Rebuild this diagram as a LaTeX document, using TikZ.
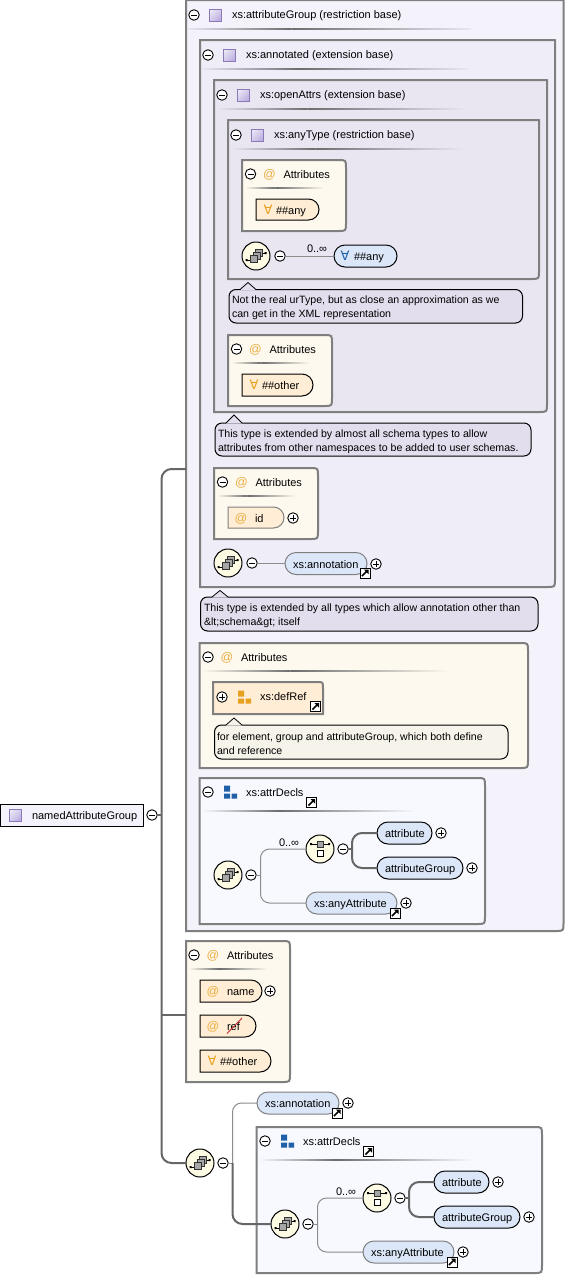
\documentclass[tikz,border=0pt]{standalone}
\usepackage{fontspec}
\setmainfont{Liberation Sans}
\newfontfamily\djv{DejaVu Sans}
\usetikzlibrary{shapes.misc,shadings}
\definecolor{frameG}{HTML}{7F7F7F}
\definecolor{bgA}{HTML}{F4F2FB}
\definecolor{bgB}{HTML}{EFEDF7}
\definecolor{bgC}{HTML}{E9E6F2}
\definecolor{bgAttr}{HTML}{FEF9EF}
\definecolor{bgDecl}{HTML}{F8F9FF}
\definecolor{itemO}{HTML}{FFEED5}
\definecolor{itemB}{HTML}{DBE7F8}
\definecolor{noteD}{HTML}{E3DEED}
\definecolor{noteL}{HTML}{F6F3EA}
\definecolor{compY}{HTML}{FDFBE3}
\definecolor{orangeI}{HTML}{E8A020}
\definecolor{blueI}{HTML}{2060A8}
\definecolor{violetI}{HTML}{8A78B8}
\definecolor{iconD}{HTML}{B5A5DC}
\definecolor{iconL}{HTML}{F2F0FA}
\definecolor{iconM}{HTML}{D4CBEB}
\definecolor{connG}{HTML}{8C8C8C}
\definecolor{connD}{HTML}{666666}
\newcounter{autoN}
\tikzset{
 txt/.style={font=\fontsize{11}{13}\selectfont,inner sep=0,outer sep=0,anchor=base west,text=black},
 notetxt/.style={font=\fontsize{10.6}{13}\selectfont,inner sep=0,outer sep=0,anchor=base west,text=black},
 hollow/.style={inner sep=0,outer sep=0},
 btn/.style={circle,draw=black,fill=white,line width=.9pt,minimum size=10.5pt,inner sep=0,outer sep=0},
 comp/.style={circle,draw=black,fill=compY,line width=1pt,minimum size=28pt,inner sep=0,outer sep=0},
 framebox/.style={draw=frameG,line width=2pt},
 pillbase/.style={rounded rectangle,inner sep=0,outer sep=0,line width=1pt},
 attitem/.style={pillbase,rounded rectangle west arc=none,draw=black,fill=itemO},
 attitemg/.style={pillbase,rounded rectangle west arc=none,draw=frameG,fill=itemO},
 elemitem/.style={pillbase,draw=black,fill=itemB},
 elemitemg/.style={pillbase,draw=frameG,fill=itemB},
 thinconn/.style={draw=connG,line width=1pt,rounded corners=9pt},
 thickconn/.style={draw=connD,line width=2pt,rounded corners=10pt},
 plainconn/.style={draw=connG,line width=1pt},
 notebox/.style={rectangle,rounded corners=7pt,draw=black,line width=1pt,inner sep=0,outer sep=0},
}
\newcommand{\lab}[3]{\stepcounter{autoN}\node[txt] (t\theautoN) at (#1,#2+4) {#3};}
\newcommand{\nlab}[3]{\stepcounter{autoN}\node[notetxt] (t\theautoN) at (#1,#2+4) {#3};}
\newcommand{\mbtn}[3]{\node[btn] (#1) at (#2,#3) {}; \draw[line width=.9pt] (#2-3,#3) -- (#2+3,#3);}
\newcommand{\pbtn}[3]{\node[btn] (#1) at (#2,#3) {}; \draw[line width=.9pt] (#2-3,#3) -- (#2+3,#3) (#2,#3-3) -- (#2,#3+3);}
% square type icon
\newcommand{\typeicon}[2]{\stepcounter{autoN}\node[hollow,minimum size=12pt] (t\theautoN) at (#1,#2) {};
 \shade[upper left=iconL,lower right=iconD,upper right=iconM,lower left=iconM] (#1-6,#2-6) rectangle (#1+6,#2+6);
 \draw[violetI,line width=1pt] (#1-6,#2-6) rectangle (#1+6,#2+6);}
% separator
\newcommand{\sepline}[4]{\pgfmathsetmacro{\mid}{#1+0.36*(#2-#1)}
 \shade[left color=#4,right color=gray!85!black] (#1,#3-.9) rectangle (\mid,#3+.9);
 \shade[left color=gray!85!black,right color=#4] (\mid,#3-.9) rectangle (#2,#3+.9);}
% framed box with selectable corner radii: name l t r b fill rTR rBR
\newcommand{\cbox}[8]{\pgfmathsetmacro{\wid}{#4-#2}\pgfmathsetmacro{\hei}{#5-#3}
 \node[hollow,minimum width=\wid pt,minimum height=\hei pt] (#1) at ({(#2+#4)/2},{(#3+#5)/2}) {};
 \draw[framebox,fill=#6] (#2,#5) -- (#2,#3) -- (#4-#7,#3) .. controls (#4,#3) .. (#4,#3+#7) -- (#4,#5-#8) .. controls (#4,#5) .. (#4-#8,#5) -- cycle;}
\newcommand{\pill}[6]{\pgfmathsetmacro{\wid}{#4-#2}\pgfmathsetmacro{\hei}{#5-#3}
 \node[#6,minimum width=\wid pt,minimum height=\hei pt] (#1) at ({(#2+#4)/2},{(#3+#5)/2}) {};}
% note: name l t r b fill tipx tipy
\newcommand{\notebx}[8]{\pgfmathsetmacro{\wid}{#4-#2}\pgfmathsetmacro{\hei}{#5-#3}
 \node[notebox,fill=#6,minimum width=\wid pt,minimum height=\hei pt] (#1) at ({(#2+#4)/2},{(#3+#5)/2}) {};
 \fill[#6] (#7-8,#3+.5) -- (#7,#8) -- (#7+8,#3+.5) -- cycle;
 \draw[black,line width=.8pt] (#7-8,#3) -- (#7,#8) -- (#7+8,#3);}
% sequence compositor
\newcommand{\seqc}[3]{\node[comp] (#1) at (#2,#3) {};
 \draw[black,line width=1pt] (#2-10,#3+4) -- (#2-5,#3+4) (#2+5,#3-3) -- (#2+10,#3-3);
 \fill[black] (#2-10.5,#3+3) rectangle (#2-8.5,#3+5) (#2+8.5,#3-4) rectangle (#2+10.5,#3-2);
 \draw[black!80,fill=gray!70,line width=.8pt] (#2-0.5,#3-6.5) rectangle (#2+6.5,#3+.5);
 \draw[black!80,fill=gray!70,line width=.8pt] (#2-3,#3-4) rectangle (#2+4,#3+3);
 \draw[black!80,fill=gray!70,line width=.8pt] (#2-6,#3-1) rectangle (#2+1,#3+6);}
% choice compositor
\newcommand{\choicec}[3]{\node[comp] (#1) at (#2,#3) {};
 \draw[black,line width=1pt] (#2-9,#3-5) -- (#2+9,#3-5);
 \fill[black] (#2-10,#3-6) rectangle (#2-8,#3-4) (#2+8,#3-6) rectangle (#2+10,#3-4);
 \draw[black!80,fill=gray!70,line width=.8pt] (#2-3,#3-8) rectangle (#2+3,#3-2);
 \draw[black,fill=white,line width=.9pt] (#2-3,#3+1) rectangle (#2+3,#3+7);}
% link icon
\newcommand{\linkicon}[2]{\stepcounter{autoN}\node[hollow,draw=black,fill=white,line width=1pt,minimum size=10pt] (t\theautoN) at (#1,#2) {};
 \draw[black,line width=1.6pt] (#1-3,#2+3) -- (#1+1.5,#2-1.5);
 \fill[black] (#1-1,#2-3.5) -- (#1+3.5,#2-3.5) -- (#1+3.5,#2+1) -- cycle;}
% group icon
\newcommand{\groupicon}[3]{\stepcounter{autoN}\node[hollow,minimum size=12pt] (t\theautoN) at (#1,#2) {};
 \fill[#3] (#1-6,#2-6.5) rectangle (#1,#2-.5) (#1-6,#2+1.5) rectangle (#1,#2+6.5) (#1+1.5,#2+1.5) rectangle (#1+7,#2+6.5);}
% @ and any glyph
\newcommand{\atg}[2]{\stepcounter{autoN}\node[font=\fontsize{12.5}{13}\selectfont,text=orangeI!85!white,inner sep=0,outer sep=0,anchor=base] (t\theautoN) at (#1,#2+4) {@};}
\newcommand{\anyg}[3]{\stepcounter{autoN}\node[font=\djv\fontsize{13}{13}\selectfont,text=#3,inner sep=0,outer sep=0,anchor=base] (t\theautoN) at (#1,#2+4.5) {∀};}
% type box header
\newcommand{\typehead}[5]{\mbtn{#1m}{#2+8}{#3+15}\typeicon{#2+29}{#3+15}\lab{#2+46}{#3+14.5}{#4}\sepline{#2+2}{#5}{#3+29}{bgC}}
% attribute box header
\newcommand{\attrhead}[3]{\mbtn{#1m}{#2+8.5}{#3+14}\atg{#2+27.5}{#3+14}\lab{#2+41.5}{#3+14}{Attributes}\sepline{#2+3}{#2+82}{#3+28}{bgAttr}}
% attrDecls group
\newcommand{\attrdecls}[3]{\begin{scope}[shift={(#2,#3)}]
 \cbox{#1box}{199.5}{778}{485}{924}{bgDecl}{8}{8}
 \mbtn{#1m}{208}{792}\groupicon{230}{792}{blueI}\lab{246}{792}{xs:attrDecls}\linkicon{311.5}{802.5}
 \sepline{202}{416}{811}{bgDecl}
 \seqc{#1seq}{228}{875}\mbtn{#1sm}{251}{875}
 \coordinate (#1br) at (260.5,875);
 \draw[plainconn] (#1sm.east) -- (#1br);
 \choicec{#1ch}{320}{849}\mbtn{#1cm}{343}{849}
 \pill{#1att}{377}{822}{432}{844}{elemitem}
 \pill{#1atg}{377}{857}{463}{879}{elemitem}
 \pill{#1any}{306}{892}{397}{914}{elemitemg}
 \coordinate (#1cbr) at (352,849);
 \draw[thinconn] (#1ch.west) -- (#1br |- #1ch.west) -- (#1br |- #1any.west) -- (#1any.west);
 \draw[thickconn] (#1att.west) -- (#1cbr |- #1att.west) -- (#1cbr |- #1atg.west) -- (#1atg.west);
 \draw[plainconn,draw=connD,line width=1.5pt] (#1cm.east) -- (#1cbr);
 \lab{385}{833}{attribute}\lab{385}{868}{attributeGroup}\lab{314}{903}{xs:anyAttribute}
 \lab{279}{842}{0..∞}
 \pbtn{#1p1}{441}{833}\pbtn{#1p2}{472}{868}\pbtn{#1p3}{406}{903}
 \linkicon{395}{913}
\end{scope}}
\begin{document}
\begin{tikzpicture}[x=1pt,y=-1pt]
\useasboundingbox[fill=white] (0,0) rectangle (565,1275);
% root
\node[hollow,draw=black,line width=1pt,fill=bgA,minimum width=143pt,minimum height=22pt] (root) at (71.5,815) {};
\typeicon{15.5}{815}\lab{32}{815}{namedAttributeGroup}
\mbtn{rootm}{152}{815}
% trunk targets
\coordinate (trunk) at (161.5,815);
\coordinate (gA) at (186,469);
\coordinate (gB) at (186,1015);
% attributeGroup
\cbox{outer}{186}{0}{563.5}{931}{bgA}{0.1}{8}
\typehead{oh}{186}{0}{xs:attributeGroup (restriction base)}{471}
\cbox{annot}{200}{40}{555}{587}{bgB}{0.1}{8}
\typehead{ah}{200}{40}{xs:annotated (extension base)}{468}
\cbox{open}{214}{80}{547}{412}{bgC}{0.1}{8}
\typehead{bh}{214}{80}{xs:openAttrs (extension base)}{466}
\cbox{anyt}{228}{120}{539}{279}{bgC}{0.1}{8}
\typehead{ch}{228}{120}{xs:anyType (restriction base)}{463}
% attributes in anyType
\cbox{attA}{242}{160}{346}{231}{bgAttr}{8}{8}
\attrhead{attAh}{242}{160}
\pill{anyI}{256}{199}{319}{220}{attitem}
\anyg{268}{210}{orangeI}\lab{276}{210}{\#\#any}
\seqc{seqA}{256}{256}\mbtn{seqAm}{280}{256}
\pill{anyE}{334}{245}{397}{267}{elemitem}
\draw[plainconn] (seqAm.east) -- (anyE.west);
\lab{307}{248}{0..∞}
\anyg{345}{256}{blueI}\lab{354}{256}{\#\#any}
\notebx{noteA}{229}{289.5}{522.5}{323}{noteD}{248}{282.5}
\nlab{232}{299.5}{Not the real urType, but as close an approximation as we}
\nlab{232}{313.5}{can get in the XML representation}
\cbox{attB}{228}{335}{332}{406}{bgAttr}{8}{8}
\attrhead{attBh}{228}{335}
\pill{othI}{242}{374}{313}{396}{attitem}
\anyg{254}{385}{orangeI}\lab{262}{385}{\#\#other}
\notebx{noteB}{215}{423}{531}{456}{noteD}{234}{415}
\nlab{218}{433}{This type is extended by almost all schema types to allow}
\nlab{218}{447}{attributes from other namespaces to be added to user schemas.}
\cbox{attC}{214}{468}{318}{539}{bgAttr}{8}{8}
\attrhead{attCh}{214}{468}
\pill{idI}{228}{507}{284}{528}{attitemg}
\atg{241}{518}\lab{255}{518}{id}\pbtn{idp}{293}{518}
\seqc{seqB}{228}{563}\mbtn{seqBm}{252}{563}
\pill{annE}{285}{552.5}{367}{574.5}{elemitemg}
\draw[plainconn] (seqBm.east) -- (seqBm.east -| annE.west);
\lab{293}{564}{xs:annotation}\linkicon{365}{573}\pbtn{annp}{376}{564}
\notebx{noteC}{200.5}{597}{538}{631}{noteD}{220}{590.5}
\nlab{204}{607}{This type is extended by all types which allow annotation other than}
\nlab{204}{621}{\&lt;schema\&gt; itself}
% big Attributes
\cbox{attD}{199.5}{643}{528}{768}{bgAttr}{8}{8}
\mbtn{attDm}{208}{657}\atg{227}{657}\lab{241}{657}{Attributes}\sepline{202}{448}{671}{bgAttr}
\cbox{defR}{213}{682}{323}{714}{itemO}{6}{0.1}
\pbtn{defp}{222}{697}\groupicon{244}{697}{orangeI}\lab{260}{696.5}{xs:defRef}\linkicon{315.5}{706.5}
\notebx{noteD}{214.5}{725}{508}{759}{noteL}{234}{718}
\nlab{217}{736}{for element, group and attributeGroup, which both define}
\nlab{217}{750}{and reference}
\attrdecls{dA}{0}{0}
% bottom attributes
\cbox{attE}{186}{941}{290}{1082}{bgAttr}{8}{8}
\attrhead{attEh}{185.5}{941}
\pill{nameI}{200}{980}{262}{1002}{attitem}\atg{213}{991}\lab{227}{991}{name}\pbtn{namep}{270}{991}
\pill{refI}{200}{1015}{256}{1037}{attitem}\atg{213}{1026}\lab{227}{1026}{ref}
\draw[red!55!gray,line width=1pt] (227,1033.5) -- (242,1018);
\pill{othJ}{200}{1050}{271}{1072}{attitem}\anyg{212}{1061}{orangeI}\lab{220}{1061}{\#\#other}
% bottom sequence
\seqc{seqC}{200}{1163}\mbtn{seqCm}{223}{1163}
\coordinate (brC) at (232.5,1163);
\pill{annF}{257}{1092}{339}{1114}{elemitemg}
\lab{265}{1103}{xs:annotation}\linkicon{337}{1113}\pbtn{annq}{348}{1103}
\attrdecls{dB}{57}{349}
\draw[plainconn] (seqCm.east) -- (brC);
\draw[thinconn] (annF.west) -- (brC |- annF.west) -- (brC);
\draw[thickconn] (brC) -- (brC |- dBseq.west) -- (dBseq.west);
% root trunk
\draw[thickconn] (gA) -- (trunk |- gA) -- (trunk |- seqC.west) -- (seqC.west);
\draw[thickconn] (trunk |- gB) -- (gB);
\draw[connD,line width=1.5pt] (rootm.east) -- (trunk);
\end{tikzpicture}
\end{document}
